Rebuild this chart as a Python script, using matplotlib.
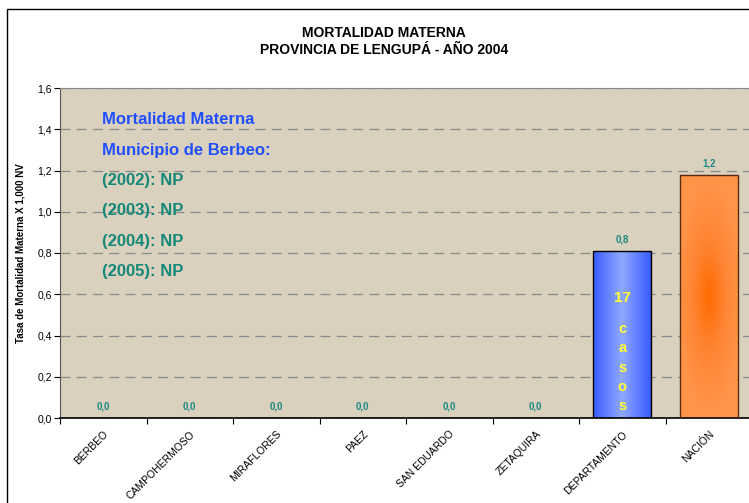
import matplotlib.pyplot as plt
import numpy as np
from matplotlib.patches import Rectangle
from matplotlib.colors import LinearSegmentedColormap

# data
categorias = ['BERBEO', 'CAMPOHERMOSO', 'MIRAFLORES', 'PAEZ', 'SAN EDUARDO',
              'ZETAQUIRA', 'DEPARTAMENTO', 'NACIÓN']
tasas = [0.0, 0.0, 0.0, 0.0, 0.0, 0.0, 0.81, 1.18]
etiquetas = ['0,0', '0,0', '0,0', '0,0', '0,0', '0,0', '0,8', '1,2']
y_ticks = [0.0, 0.2, 0.4, 0.6, 0.8, 1.0, 1.2, 1.4, 1.6]
nota_azul = ['Mortalidad Materna', 'Municipio de Berbeo:']
nota_verde = ['(2002): NP', '(2003): NP', '(2004): NP', '(2005): NP']

plt.rcParams['font.family'] = ['Liberation Sans', 'DejaVu Sans']

fig = plt.figure(figsize=(7.49, 5.03), dpi=100)
fig.patch.set_facecolor('white')

# frame of the chart area
fig.add_artist(Rectangle((7 / 749, -0.1), 1.2, 1 - 9 / 503 + 0.1,
                         transform=fig.transFigure, fill=False,
                         edgecolor='black', linewidth=1.0))

fig.text(384 / 749, 1 - 33 / 503, 'MORTALIDAD MATERNA', ha='center',
         va='center', fontsize=10, fontweight='bold')
fig.text(384 / 749, 1 - 50 / 503, 'PROVINCIA DE LENGUPÁ - AÑO 2004',
         ha='center', va='center', fontsize=10, fontweight='bold')

ax = fig.add_axes([60 / 749, 85 / 503, 692 / 749, 330 / 503])
ax.set_facecolor('#d9d0bd')

x = np.arange(len(categorias))
ancho = 0.67
ax.set_xlim(-0.5, len(categorias) - 0.5)
ax.set_ylim(0, 1.6)

bars = ax.bar(x, tasas, width=ancho, color='none', edgecolor='black',
              linewidth=1.0, zorder=3)

# gradient fills
grad_azul = np.abs(np.linspace(-1, 1, 200))[None, :]
cm_azul = LinearSegmentedColormap.from_list('az', ['#8fa8ff', '#3a5cff'])
b = bars[6]
im = ax.imshow(grad_azul, cmap=cm_azul, aspect='auto', zorder=2,
               extent=[b.get_x(), b.get_x() + b.get_width(), 0, b.get_height()])
im.set_clip_path(b)

yy, xx = np.mgrid[-1:1:200j, -1:1:200j]
rad = np.sqrt((xx * 0.9) ** 2 + (yy * 1.1) ** 2)
cm_nar = LinearSegmentedColormap.from_list('na', ['#ff6a00', '#ff8534', '#ff9448'])
b = bars[7]
im2 = ax.imshow(np.clip(rad, 0, 1), cmap=cm_nar, aspect='auto', zorder=2,
                extent=[b.get_x(), b.get_x() + b.get_width(), 0, b.get_height()])
im2.set_clip_path(b)
bars[7].set_edgecolor('#5a2a10')

# value labels
for xi, v, t in zip(x, tasas, etiquetas):
    ax.text(xi, v + 0.03, t, ha='center', va='bottom', fontsize=7,
            fontweight='bold', color='#1a8a80', zorder=4)

# 17 casos
ax.text(x[6], 0.58, '17', ha='center', va='center', fontsize=11,
        fontweight='bold', color='#ffff33', zorder=4)
for i, letra in enumerate('casos'):
    ax.text(x[6], 0.43 - i * 0.093, letra, ha='center', va='center',
            fontsize=10.5, fontweight='bold', color='#ffff33', zorder=4)

# note
for i, linea in enumerate(nota_azul):
    ax.text(-0.02, 1.445 - i * 0.147, linea, ha='left', va='center',
            fontsize=12, fontweight='bold', color='#1f4fff', zorder=4)
for i, linea in enumerate(nota_verde):
    ax.text(-0.02, 1.151 - i * 0.147, linea, ha='left', va='center',
            fontsize=12, fontweight='bold', color='#138878', zorder=4)

ax.set_yticks(y_ticks)
ax.set_yticklabels([f'{v:.1f}'.replace('.', ',') for v in y_ticks], fontsize=7.5)
ax.yaxis.grid(True, linestyle=(0, (8, 5)), color='#8a8a8a', linewidth=0.9)
ax.set_axisbelow(True)

ax.set_xticks(np.arange(len(categorias) + 1) - 0.5, minor=False)
ax.set_xticklabels([''] * (len(categorias) + 1))
ax.set_xticks(x, minor=True)
ax.set_xticklabels(categorias, minor=True, rotation=45, ha='right',
                   rotation_mode='anchor', fontsize=7.5)
ax.tick_params(axis='x', which='minor', length=0, pad=8)
ax.tick_params(axis='x', which='major', length=4, direction='out')
ax.tick_params(axis='y', length=4, direction='out', pad=2)

ax.set_ylabel('Tasa de Mortalidad Materna X 1,000 NV', fontsize=7,
              fontweight='bold', labelpad=8)

ax.spines['left'].set_color('#555555')
ax.spines['top'].set_color('#888888')
ax.spines['right'].set_visible(False)
ax.spines['bottom'].set_color('black')
ax.spines['bottom'].set_linewidth(1.2)

fig.savefig('out.png', dpi=100)
